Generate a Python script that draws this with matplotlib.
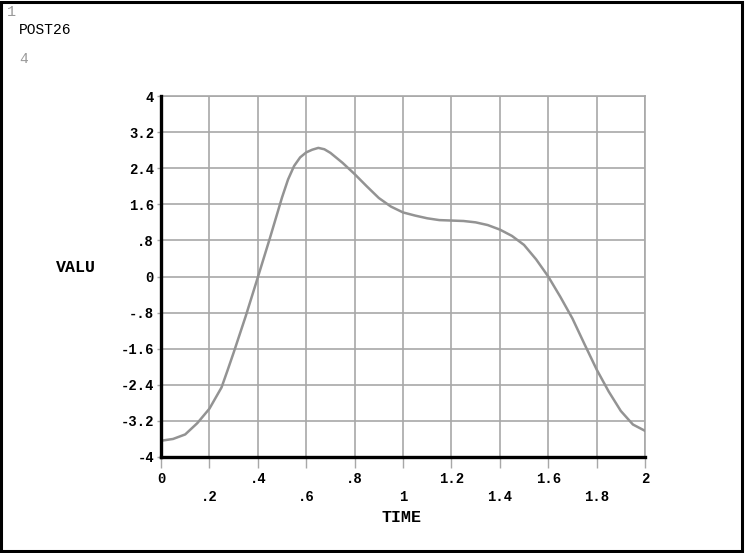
import numpy as np
import matplotlib.pyplot as plt
from matplotlib.patches import Rectangle

# time / value
time = [0.0, 0.05, 0.1, 0.15, 0.2, 0.25, 0.275, 0.3, 0.35, 0.4, 0.45,
        0.5, 0.525, 0.55, 0.575, 0.6, 0.625, 0.65, 0.675, 0.7, 0.75, 0.8, 0.85, 0.9, 0.95,
        1.0, 1.05, 1.1, 1.15, 1.2, 1.25, 1.3, 1.35, 1.4, 1.45,
        1.5, 1.55, 1.6, 1.65, 1.7, 1.75, 1.8, 1.85, 1.9, 1.95, 2.0]
valu = [-3.64, -3.60, -3.50, -3.25, -2.93, -2.46, -2.08, -1.69, -0.88, -0.02, 0.85,
        1.75, 2.15, 2.45, 2.64, 2.75, 2.81, 2.85, 2.82, 2.74, 2.52, 2.27, 2.00, 1.74, 1.55,
        1.42, 1.35, 1.29, 1.25, 1.24, 1.23, 1.20, 1.14, 1.04, 0.90,
        0.70, 0.38, 0.0, -0.45, -0.93, -1.50, -2.06, -2.55, -2.98, -3.28, -3.42]

x_ticks = [0, 0.2, 0.4, 0.6, 0.8, 1.0, 1.2, 1.4, 1.6, 1.8, 2.0]
x_labels = ['0', '.2', '.4', '.6', '.8', '1', '1.2', '1.4', '1.6', '1.8', '2']
y_ticks = [-4, -3.2, -2.4, -1.6, -0.8, 0, 0.8, 1.6, 2.4, 3.2, 4]
y_labels = ['-4', '-3.2', '-2.4', '-1.6', '-.8', '0', '.8', '1.6', '2.4', '3.2', '4']

mono = 'Liberation Mono'
grid_c = '#a8a8a8'

fig = plt.figure(figsize=(7.45, 5.53), dpi=100)
ax = fig.add_axes([0.2161, 0.1736, 0.6497, 0.6528])

ax.plot(time, valu, color='#939393', linewidth=1.8, zorder=3)

ax.set_xlim(0, 2)
ax.set_ylim(-4, 4)
ax.set_xticks(x_ticks)
# alternate rows like the ANSYS layout
ax.set_xticklabels([lab if i % 2 == 0 else '\n' + lab for i, lab in enumerate(x_labels)],
                   fontfamily=mono, fontsize=10, fontweight='bold', linespacing=1.3)
ax.set_yticks(y_ticks)
ax.set_yticklabels(y_labels, fontfamily=mono, fontsize=10, fontweight='bold')

ax.grid(True, color=grid_c, linewidth=1.2)
ax.tick_params(axis='x', direction='out', length=8, width=1.0, color=grid_c, pad=3)
ax.tick_params(axis='y', direction='out', length=3, width=1.0, color=grid_c, pad=2)

for side in ['top', 'right']:
    ax.spines[side].set_color(grid_c)
    ax.spines[side].set_linewidth(1.2)
for side in ['left', 'bottom']:
    ax.spines[side].set_color('black')
    ax.spines[side].set_linewidth(2.4)
    ax.spines[side].set_zorder(4)

fig.text(402 / 745, 1 - 517 / 553, 'TIME', fontfamily=mono, fontsize=12,
         fontweight='bold', ha='center', va='center')
fig.text(76 / 745, 1 - 268 / 553, 'VALU', fontfamily=mono, fontsize=12,
         fontweight='bold', ha='center', va='center')

# header texts
fig.text(7 / 745, 1 - 12 / 553, '1', fontfamily=mono, fontsize=11,
         color='#9a9a9a', ha='left', va='center')
fig.text(19 / 745, 1 - 30 / 553, 'POST26', fontfamily=mono, fontsize=10.5,
         color='black', ha='left', va='center')
fig.text(19 / 745, 1 - 59 / 553, '4', fontfamily=mono, fontsize=10.5,
         color='#9a9a9a', ha='left', va='center')

# frame around whole picture
fig.patches.append(Rectangle((0.002, 0.003), 0.994, 0.994, transform=fig.transFigure,
                             fill=False, edgecolor='black', linewidth=2.2))

fig.savefig('out.png', dpi=100)
